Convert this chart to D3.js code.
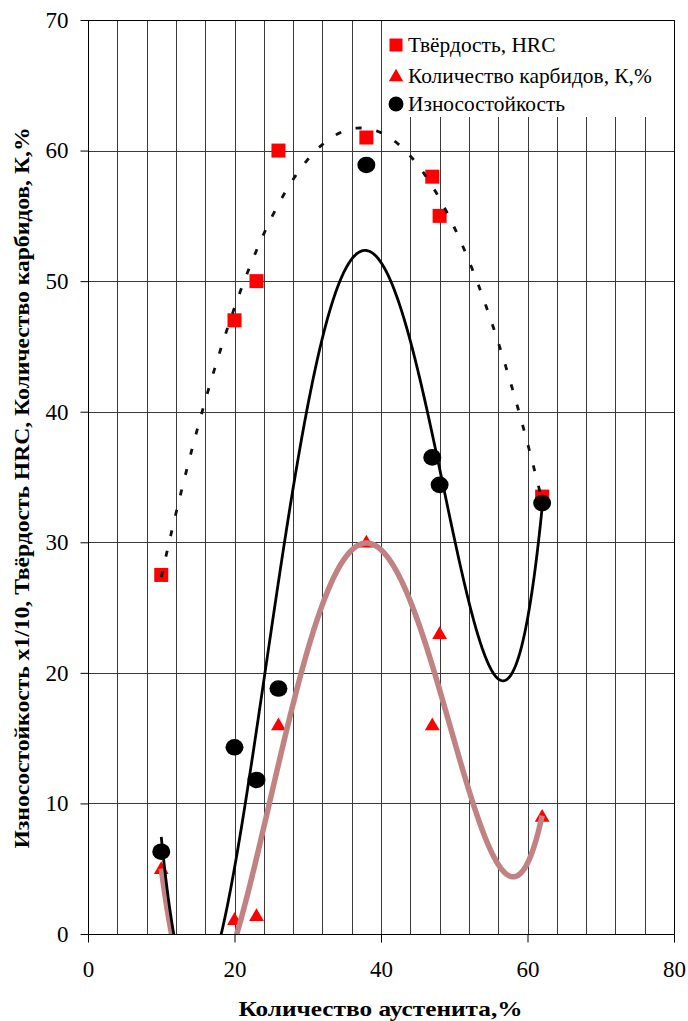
<!DOCTYPE html>
<meta charset="utf-8">
<head>
  <script src="https://d3js.org/d3.v7.min.js"></script>
  <style>
    body { margin: 0; background: #fff; }
  </style>
</head>
<body>
<div id="chart"></div>
<script>
// measured points
const austenite = [10, 20, 23, 26, 38, 47, 48, 62];
const hardness  = [27.5, 47, 50, 60, 61, 58, 55, 33.5];
const carbides  = [5, 1.1, 1.4, 16, 30, 16, 23, 9];
const wear      = [6.3, 14.3, 11.8, 18.8, 58.9, 36.5, 34.4, 33];

// polynomial trendline orders (as in the spreadsheet chart)
const hardOrder = 2, carbOrder = 4, wearOrder = 4;

const xTicks = [0, 20, 40, 60, 80];
const yTicks = [0, 10, 20, 30, 40, 50, 60, 70];
const xGrid = d3.range(0, 81, 4);

const legendNames = ["Твёрдость, HRC", "Количество карбидов, К,%", "Износостойкость"];
const xTitle = "Количество аустенита,%";
const yTitle = "Износостойкость х1/10, Твёрдость HRC, Количество карбидов, К,%";

const FONT = '"Liberation Serif", "Times New Roman", serif';
const W = 688, H = 1021;
const margin = {top: 20, right: 14, bottom: 87, left: 88};
const iw = W - margin.left - margin.right, ih = H - margin.top - margin.bottom;

const svg = d3.select("#chart").append("svg")
  .attr("width", W).attr("height", H);
const g = svg.append("g").attr("transform", `translate(${margin.left},${margin.top})`);

const x = d3.scaleLinear().domain([0, 80]).range([0, iw]);
const y = d3.scaleLinear().domain([0, 70]).range([ih, 0]);

svg.append("clipPath").attr("id", "plotclip")
  .append("rect").attr("width", iw).attr("height", ih);

// least squares polynomial, like a spreadsheet trendline
function polyfit(xs, ys, deg) {
  const n = deg + 1;
  const A = Array.from({length: n}, () => new Array(n + 1).fill(0));
  xs.forEach((xv, k) => {
    for (let i = 0; i < n; i++) {
      for (let j = 0; j < n; j++) A[i][j] += Math.pow(xv, i + j);
      A[i][n] += ys[k] * Math.pow(xv, i);
    }
  });
  for (let c = 0; c < n; c++) {
    let p = c;
    for (let r = c + 1; r < n; r++) if (Math.abs(A[r][c]) > Math.abs(A[p][c])) p = r;
    [A[c], A[p]] = [A[p], A[c]];
    for (let r = 0; r < n; r++) if (r !== c) {
      const f = A[r][c] / A[c][c];
      for (let k = c; k <= n; k++) A[r][k] -= f * A[c][k];
    }
  }
  return A.map((row, i) => row[n] / row[i]);
}
const polyVal = (co, t) => co.reduce((s, c, i) => s + c * Math.pow(t, i), 0);
const xMin = d3.min(austenite), xMax = d3.max(austenite);
const trend = (ys, deg) => {
  const co = polyfit(austenite, ys, deg);
  return d3.range(xMin, xMax + 0.001, 0.1).map(t => [t, polyVal(co, t)]);
};

// grid
g.append("g").selectAll("line").data(xGrid).enter().append("line")
  .attr("x1", d => Math.round(x(d)) + 0.5).attr("x2", d => Math.round(x(d)) + 0.5)
  .attr("y1", 0).attr("y2", ih)
  .attr("stroke", "#3a3a3a").attr("stroke-width", 1);
g.append("g").selectAll("line").data(yTicks).enter().append("line")
  .attr("x1", 0).attr("x2", iw)
  .attr("y1", d => Math.round(y(d)) + 0.5).attr("y2", d => Math.round(y(d)) + 0.5)
  .attr("stroke", "#3a3a3a").attr("stroke-width", 1);

// axes
const xAxis = g.append("g").attr("transform", `translate(0,${Math.round(ih) + 0.5})`)
  .call(d3.axisBottom(x).tickValues(xTicks).tickSize(8).tickPadding(18).tickSizeOuter(0));
const yAxis = g.append("g").attr("transform", "translate(0.5,0)")
  .call(d3.axisLeft(y).tickValues(yTicks).tickSize(8).tickPadding(12).tickSizeOuter(0));
[xAxis, yAxis].forEach(a => {
  a.attr("font-family", null).attr("font-size", null);
  a.select(".domain").remove();
  a.selectAll("line").attr("stroke", "#000");
  a.selectAll("text").style("font-family", FONT).style("font-size", "23px").attr("fill", "#000");
});
// frame
g.append("rect").attr("x", 0.5).attr("y", 0.5).attr("width", iw).attr("height", Math.round(ih))
  .attr("fill", "none").attr("stroke", "#000").attr("stroke-width", 1);

// legend box (covers grid)
const lg = g.append("g").attr("transform", `translate(${x(40) + 1.5},1)`);
lg.append("rect").attr("width", iw - x(40) - 2).attr("height", 96).attr("fill", "#fff");

// markers
const pts = austenite.map((a, i) => ({a, h: hardness[i], c: carbides[i], w: wear[i]}));
const tri = d3.symbol().type(d3.symbolTriangle).size(95);
const mk = g.append("g");
mk.selectAll("rect.h").data(pts).enter().append("rect")
  .attr("x", d => x(d.a) - 7).attr("y", d => y(d.h) - 7)
  .attr("width", 14).attr("height", 14).attr("fill", "#ff0000");
mk.selectAll("path.c").data(pts).enter().append("path")
  .attr("d", tri)
  .attr("transform", d => `translate(${x(d.a)},${y(d.c) + 1})`)
  .attr("fill", "#ff0000");
mk.selectAll("ellipse.w").data(pts).enter().append("ellipse")
  .attr("cx", d => x(d.a)).attr("cy", d => y(d.w))
  .attr("rx", 9).attr("ry", 8.3).attr("fill", "#000");

// trend lines on top of markers
const line = d3.line().x(d => x(d[0])).y(d => y(d[1]));
const tl = g.append("g").attr("clip-path", "url(#plotclip)").attr("fill", "none");

tl.append("path").attr("d", line(trend(carbides, carbOrder)))
  .attr("stroke", "#c08282").attr("stroke-width", 5.5).attr("stroke-linejoin", "round");
tl.append("path").attr("d", line(trend(wear, wearOrder)))
  .attr("stroke", "#000").attr("stroke-width", 2.8);
tl.append("path").attr("d", line(trend(hardness, hardOrder)))
  .attr("stroke", "#111").attr("stroke-width", 2.8).attr("stroke-dasharray", "6 15");

// legend entries
const ly = [24, 55, 83];
lg.append("rect").attr("x", 7).attr("y", ly[0] - 6.5).attr("width", 13).attr("height", 13).attr("fill", "#ff0000");
lg.append("path").attr("d", d3.symbol().type(d3.symbolTriangle).size(90))
  .attr("transform", `translate(13.5,${ly[1] + 1})`).attr("fill", "#ff0000");
lg.append("circle").attr("cx", 13.5).attr("cy", ly[2]).attr("r", 7.5).attr("fill", "#000");
lg.selectAll("text").data(legendNames).enter().append("text")
  .attr("x", 25.5).attr("y", (d, i) => ly[i] + 7)
  .style("font-family", FONT).style("font-size", "21.4px").attr("fill", "#000")
  .text(d => d);

// axis titles
svg.append("text")
  .attr("x", 380.5).attr("y", 1016)
  .attr("text-anchor", "middle")
  .style("font-family", FONT).style("font-weight", "bold").style("font-size", "22px")
  .attr("textLength", 284).attr("lengthAdjust", "spacingAndGlyphs")
  .text(xTitle);
svg.append("text")
  .attr("transform", "translate(29,488) rotate(-90)")
  .attr("text-anchor", "middle")
  .style("font-family", FONT).style("font-weight", "bold").style("font-size", "22px")
  .attr("textLength", 721).attr("lengthAdjust", "spacingAndGlyphs")
  .text(yTitle);
</script>
</body>
